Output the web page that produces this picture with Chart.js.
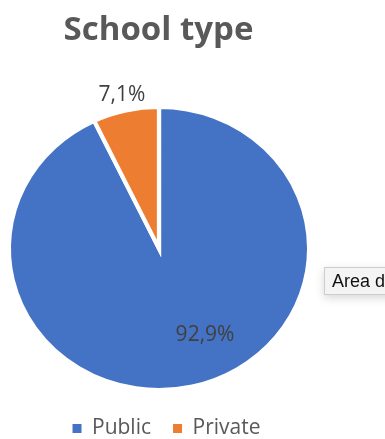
<!DOCTYPE html>
<html><head><meta charset="utf-8">
<script src="https://cdn.jsdelivr.net/npm/chart.js@4.4.1/dist/chart.umd.min.js"></script>
<style>
html,body{margin:0;padding:0;background:#fff;overflow:hidden;width:385px;height:439px}
#wrap{position:relative;width:385px;height:439px;overflow:hidden}
#tip{position:absolute;left:324px;top:267px;height:28px;width:170px;box-sizing:border-box;background:#f4f4f4;border:1px solid #cdcdcd;box-shadow:0 3px 10px rgba(0,0,0,0.16);font:18px "Liberation Sans",Arial,sans-serif;color:#111;line-height:26px;padding-left:7px;white-space:nowrap}
</style></head><body>
<div id="wrap"><canvas id="c"></canvas><div id="tip">Area del grafico</div></div>
<script>
// ---- data ----
const categories = ['Public', 'Private'];
const shares = [92.9, 7.1];
const sliceColors = ['#4472C4', '#ED7D31'];
const chartTitle = 'School type';

// ---- layout / style ----
const pie = { cx: 159, cy: 248.5, ry: 139.5, sx: 1.061, border: 4 };
const legendShift = 8, legendTop = 396;
const labelPlacement = [
  { mode: 'offset', dx: 0.311, dy: 0.62 },
  { mode: 'radial', f: 1.13 }
];
const fmt = v => v.toFixed(1).replace('.', ',') + '%';

const layoutPlugin = {
  id: 'layoutFix',
  afterLayout(chart) {
    const R = pie.ry + pie.border / 2;
    const half = R + pie.border / 2;
    chart.chartArea = {
      left: pie.cx - 159, right: pie.cx + 159,
      top: pie.cy - half, bottom: pie.cy + half,
      width: 318, height: 2 * half
    };
    const lg = chart.legend;
    if (lg) {
      const h = lg.bottom - lg.top;
      lg.left += legendShift; lg.right += legendShift;
      lg.top = legendTop; lg.bottom = legendTop + h;
    }
  }
};

const ellipsePlugin = {
  id: 'ellipseLabels',
  beforeDatasetsDraw(chart) {
    const a = chart.getDatasetMeta(0).data[0];
    const ctx = chart.ctx;
    ctx.save();
    ctx.translate(a.x, a.y);
    ctx.scale(pie.sx, 1);
    ctx.translate(-a.x, -a.y);
  },
  afterDatasetsDraw(chart) {
    const ctx = chart.ctx;
    ctx.restore();
    const meta = chart.getDatasetMeta(0);
    ctx.save();
    ctx.font = '21px "Open Sans"';
    ctx.fillStyle = '#404040';
    ctx.textAlign = 'center';
    ctx.textBaseline = 'middle';
    meta.data.forEach((arc, i) => {
      const p = arc.getProps(['x', 'y', 'startAngle', 'endAngle', 'outerRadius'], true);
      const r = p.outerRadius - pie.border / 2;
      const place = labelPlacement[i];
      let px, py;
      if (place.mode === 'radial') {
        const mid = (p.startAngle + p.endAngle) / 2;
        px = p.x + Math.cos(mid) * r * place.f * pie.sx;
        py = p.y + Math.sin(mid) * r * place.f;
      } else {
        px = p.x + place.dx * r * pie.sx;
        py = p.y + place.dy * r;
      }
      ctx.fillText(fmt(shares[i]), px, py);
    });
    ctx.restore();
  }
};

new Chart(document.getElementById('c'), {
  type: 'pie',
  data: {
    labels: categories,
    datasets: [{
      data: shares,
      backgroundColor: sliceColors,
      borderColor: '#ffffff',
      borderWidth: pie.border,
      borderJoinStyle: 'miter'
    }]
  },
  options: {
    responsive: true,
    maintainAspectRatio: false,
    devicePixelRatio: 1,
    animation: false,
    events: [],
    layout: { padding: { left: 0, right: 68, top: 0, bottom: 0 } },
    plugins: {
      tooltip: { enabled: false },
      title: {
        display: true,
        text: chartTitle,
        color: '#595959',
        font: { family: 'Open Sans', size: 33, weight: 'bold' },
        padding: { top: 11, bottom: 10 }
      },
      legend: {
        display: true,
        position: 'bottom',
        labels: {
          color: '#595959',
          font: { family: 'Open Sans', size: 21 },
          boxWidth: 9,
          boxHeight: 9,
          padding: 22,
          generateLabels(chart) {
            return Chart.overrides.pie.plugins.legend.labels.generateLabels(chart)
              .map(l => Object.assign(l, { lineWidth: 0, strokeStyle: 'rgba(0,0,0,0)' }));
          }
        }
      }
    }
  },
  plugins: [layoutPlugin, ellipsePlugin]
});
</script>
</body></html>
